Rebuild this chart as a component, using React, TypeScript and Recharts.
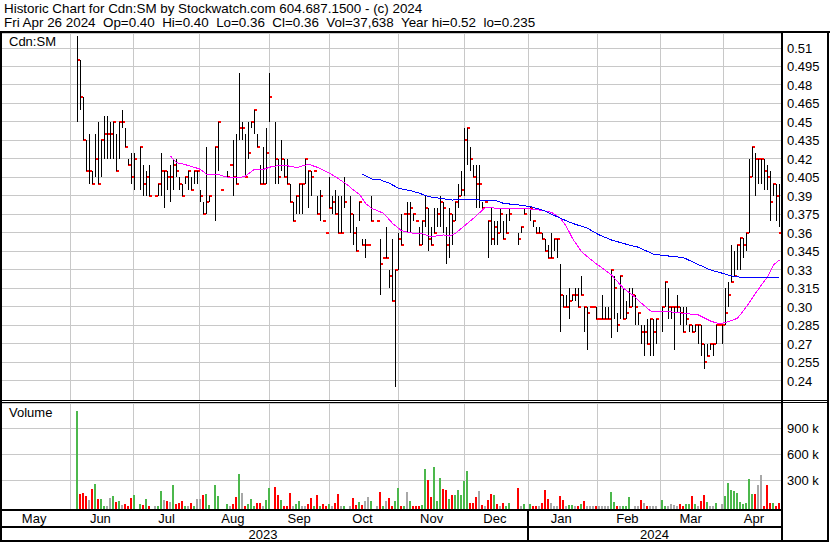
import React from 'react';
import { ComposedChart, Bar, Line, XAxis, YAxis, CartesianGrid, ReferenceLine } from 'recharts';

const FONT = '"Liberation Sans", Arial, Helvetica, sans-serif';

const headerLine1 = 'Historic Chart for Cdn:SM by Stockwatch.com 604.687.1500 - (c) 2024';
const headerLine2 = 'Fri Apr 26 2024  Op=0.40  Hi=0.40  Lo=0.36  Cl=0.36  Vol=37,638  Year hi=0.52  lo=0.235';
const symbolLabel = 'Cdn:SM';
const volumeLabel = 'Volume';

// trading-day slots from May 2023 to Apr 26 2024
const SLOTS = 260;

const monthNames = ['May', 'Jun', 'Jul', 'Aug', 'Sep', 'Oct', 'Nov', 'Dec', 'Jan', 'Feb', 'Mar', 'Apr'];
const monthLabelSlot = [11, 33, 55, 77, 99, 120, 143, 164, 186, 208, 229, 250];
const monthStartSlot = [23, 44, 66, 89, 109, 132, 154, 175, 198, 219, 240];
const yearNames = ['2023', '2024'];
const yearLabelSlot = [87, 217];
const yearStartSlot = 175;

const priceTicks = [0.51, 0.495, 0.48, 0.465, 0.45, 0.435, 0.42, 0.405, 0.39, 0.375, 0.36, 0.345, 0.33, 0.315, 0.3, 0.285, 0.27, 0.255, 0.24];
const PRICE_MIN = 0.22452;
const PRICE_MAX = 0.52217;
const volumeTicks = [300000, 600000, 900000];
const VOL_MIN = -31200;
const VOL_MAX = 1191900;

// [high, low, close] per trading day
const pricesJunJul: (number[] | null)[] = [
  [0.52, 0.45, 0.5], [0.5, 0.46, 0.47], [0.47, 0.435, 0.435], [0.435, 0.41, 0.41], [0.44, 0.4, 0.41],
  [0.41, 0.4, 0.4], [0.44, 0.405, 0.42], [0.45, 0.4, 0.4], [0.435, 0.405, 0.435], [0.455, 0.42, 0.44],
  [0.455, 0.42, 0.44], [0.45, 0.42, 0.44], [0.45, 0.42, 0.45], [0.44, 0.41, 0.41], [0.45, 0.42, 0.45],
  [0.46, 0.445, 0.45], [0.445, 0.43, 0.43], [0.42, 0.415, 0.415], [0.425, 0.4, 0.405], [0.425, 0.395, 0.42],
  null, [0.43, 0.395, 0.43], [0.415, 0.39, 0.4], [0.41, 0.39, 0.405], [0.415, 0.39, 0.39],
  null, [0.39, 0.39, 0.39], [0.4, 0.39, 0.4], [0.425, 0.39, 0.41], [0.41, 0.38, 0.41],
  [0.41, 0.395, 0.405], [0.415, 0.385, 0.405], [0.42, 0.395, 0.415], [0.42, 0.405, 0.41], [0.405, 0.395, 0.4],
  [0.4, 0.39, 0.39], [0.405, 0.4, 0.405], [0.41, 0.395, 0.41], [0.405, 0.395, 0.395], [0.41, 0.4, 0.41],
  [0.41, 0.4, 0.41], [0.395, 0.385, 0.39], [0.385, 0.375, 0.375], [0.43, 0.375, 0.385], [0.39, 0.385, 0.39],
  null,
];
const pricesAugSep: (number[] | null)[] = [
  [0.43, 0.37, 0.43], [0.45, 0.41, 0.45], [0.395, 0.395, 0.395], null, [0.41, 0.405, 0.405],
  [0.415, 0.415, 0.415], [0.435, 0.39, 0.405], [0.44, 0.4, 0.4], [0.49, 0.435, 0.445], [0.45, 0.435, 0.445],
  [0.44, 0.405, 0.405], [0.45, 0.42, 0.425], [0.45, 0.445, 0.45], [0.46, 0.44, 0.46], [0.44, 0.43, 0.43],
  [0.415, 0.4, 0.4], [0.43, 0.4, 0.4], [0.445, 0.4, 0.425], [0.49, 0.45, 0.47], null,
  [0.45, 0.4, 0.42], [0.42, 0.4, 0.405], [0.435, 0.41, 0.42], [0.42, 0.405, 0.405], [0.42, 0.4, 0.4],
  [0.4, 0.385, 0.385], [0.385, 0.37, 0.37], [0.39, 0.375, 0.39], [0.4, 0.375, 0.4], [0.4, 0.375, 0.4],
  [0.42, 0.4, 0.42], [0.41, 0.38, 0.41], [0.41, 0.39, 0.405], [0.41, 0.41, 0.41], [0.39, 0.375, 0.375],
  [0.395, 0.37, 0.39], [0.37, 0.37, 0.37], [0.36, 0.36, 0.36], [0.405, 0.38, 0.38], [0.39, 0.375, 0.385],
  [0.395, 0.375, 0.375], [0.39, 0.36, 0.36], [0.39, 0.36, 0.36], [0.405, 0.38, 0.385], null,
  [0.39, 0.36, 0.375], [0.375, 0.35, 0.36], [0.365, 0.345, 0.345],
];
const pricesOctNov: (number[] | null)[] = [
  [0.385, 0.37, 0.385], [0.355, 0.35, 0.35], [0.355, 0.34, 0.35], [0.35, 0.35, 0.35], [0.39, 0.37, 0.37],
  null, [0.37, 0.37, 0.37], [0.355, 0.31, 0.335], [0.34, 0.34, 0.34], [0.365, 0.34, 0.34],
  [0.33, 0.315, 0.325], [0.355, 0.305, 0.305], [0.33, 0.235, 0.33], [0.36, 0.33, 0.355], [0.375, 0.35, 0.35],
  [0.375, 0.375, 0.375], [0.385, 0.36, 0.375], [0.385, 0.36, 0.38], [0.375, 0.37, 0.375], [0.37, 0.37, 0.37],
  [0.365, 0.35, 0.35], [0.37, 0.35, 0.37], [0.39, 0.365, 0.38], [0.38, 0.345, 0.355], [0.365, 0.35, 0.35],
  [0.38, 0.36, 0.36], [0.38, 0.365, 0.375], [0.39, 0.365, 0.385], [0.385, 0.36, 0.38], [0.365, 0.335, 0.35],
  [0.38, 0.34, 0.375], [0.375, 0.35, 0.37], [0.385, 0.37, 0.385], [0.4, 0.38, 0.39], [0.41, 0.39, 0.395],
  [0.445, 0.39, 0.435], [0.445, 0.415, 0.445], [0.43, 0.41, 0.42], [0.415, 0.405, 0.405], [0.415, 0.38, 0.4],
  [0.415, 0.38, 0.4], [0.385, 0.38, 0.38], [0.385, 0.385, 0.385], [0.37, 0.34, 0.37], [0.38, 0.35, 0.355],
  [0.37, 0.35, 0.365],
];
const pricesDecJan: (number[] | null)[] = [
  [0.37, 0.35, 0.36], [0.38, 0.36, 0.375], [0.37, 0.355, 0.355], [0.375, 0.36, 0.36], [0.38, 0.37, 0.375],
  null, null, [0.36, 0.35, 0.355], [0.365, 0.36, 0.365], [0.38, 0.375, 0.375],
  null, [0.382, 0.37, 0.38], [0.37, 0.365, 0.37], [0.365, 0.36, 0.36], [0.365, 0.36, 0.36],
  [0.36, 0.355, 0.355], [0.355, 0.345, 0.345], [0.35, 0.34, 0.34], [0.36, 0.34, 0.34], [0.355, 0.345, 0.355],
  [0.355, 0.34, 0.355], [0.335, 0.28, 0.31], [0.31, 0.3, 0.3], [0.31, 0.3, 0.3], [0.315, 0.29, 0.305],
  [0.31, 0.305, 0.31], [0.315, 0.305, 0.31], [0.315, 0.3, 0.3], [0.325, 0.31, 0.31], [0.3, 0.28, 0.3],
  [0.3, 0.265, 0.295], [0.3, 0.3, 0.3], [0.3, 0.3, 0.3], [0.3, 0.29, 0.29], [0.29, 0.29, 0.29],
  [0.31, 0.29, 0.29], [0.3, 0.29, 0.29], [0.3, 0.29, 0.29], [0.33, 0.275, 0.33], [0.325, 0.29, 0.315],
  [0.295, 0.28, 0.285], [0.325, 0.29, 0.325], [0.315, 0.29, 0.29], [0.305, 0.29, 0.295], [0.315, 0.3, 0.3],
  [0.315, 0.3, 0.31],
];
const pricesFebApr: (number[] | null)[] = [
  [0.31, 0.285, 0.3], [0.295, 0.285, 0.295], [0.285, 0.27, 0.28], [0.285, 0.26, 0.28], [0.29, 0.27, 0.27],
  [0.29, 0.26, 0.29], [0.29, 0.26, 0.28], [0.29, 0.27, 0.29], null, [0.3, 0.28, 0.3],
  [0.32, 0.3, 0.32], [0.315, 0.29, 0.3], [0.3, 0.29, 0.3], [0.3, 0.265, 0.3], [0.31, 0.295, 0.3],
  [0.3, 0.285, 0.295], [0.3, 0.28, 0.28], [0.3, 0.285, 0.29], [0.285, 0.28, 0.285], [0.285, 0.28, 0.28],
  [0.285, 0.28, 0.285], [0.285, 0.27, 0.285], [0.285, 0.26, 0.27], [0.27, 0.25, 0.255], [0.27, 0.26, 0.26],
  [0.27, 0.265, 0.27], [0.27, 0.26, 0.27], [0.285, 0.27, 0.285], [0.285, 0.285, 0.285], [0.285, 0.27, 0.285],
  [0.315, 0.285, 0.295], [0.32, 0.3, 0.31], [0.35, 0.32, 0.32], [0.345, 0.325, 0.325], [0.35, 0.33, 0.35],
  [0.356, 0.33, 0.356], [0.356, 0.34, 0.35], [0.36, 0.345, 0.36], [0.42, 0.36, 0.405], [0.43, 0.405, 0.43],
  [0.425, 0.39, 0.42], [0.42, 0.4, 0.42], [0.42, 0.4, 0.42], [0.42, 0.395, 0.41], [0.415, 0.395, 0.405],
  [0.41, 0.37, 0.385], [0.4, 0.39, 0.4], [0.4, 0.37, 0.39], [0.4, 0.365, 0.36],
];
const priceSegments: [number, (number[] | null)[]][] = [
  [25, pricesJunJul], [71, pricesAugSep], [119, pricesOctNov], [165, pricesDecJan], [211, pricesFebApr],
];

// volume in thousands, tone: G up, R down, N unchanged, - none
const volJunJul = [1103, 142, 157, 122, 76, 200, 258, 85, 85, 7, 7, 99, 119, 53, 61, 15, 27, 2, 99, 131, null, 30, 15, 85, 4, null, 4, 2, 177, 73, 61, 53, 249, 27, 38, 61, 7, 2, 42, 4, 85, 85, 131, 145, 15, null];
const toneJunJul = 'GRRRNRGRGGNNGRGNRRRG-GRGR-NGGNRNGRRRGNRGNNRGG-';
const volAugSep = [249, 119, null, null, 27, 2, 27, 111, 376, 157, 2, 27, 85, 2, 38, 38, 2, 73, 211, null, 226, 131, 73, 7, 7, 157, 2, 27, 61, 2, 2, 27, 96, 2, 131, 2, 27, 2, 27, 2, 38, 142, 4, 2, null, 2, 96, 15];
const toneAugSep = 'GG--GNRRGNRGGGRRNGG-RRGRRRNGGNNRRGRGRRGNRRNG-NRR';
const volOctNov = [50, 15, 61, 108, 61, null, 2, 165, 2, 61, 96, 2, 61, 211, 4, 7, 165, 61, 2, 2, 2, 15, 431, 304, 108, 454, 61, 327, 200, 188, 85, 131, 131, 188, 131, 292, 408, 38, 38, 108, 177, 15, 2, 73, 142, 131];
const toneOctNov = 'GRNNG-NRGNRRGGRGNGRRRGGRRGGGRRGRGGGGGRRRNRNRRG';
const volDecJan = [27, 2, 38, 4, 38, null, null, 211, 2, 27, null, 27, 2, 2, 4, 38, 188, 85, 38, 2, 2, 119, 73, 4, 15, 15, 2, 2, 27, 61, 2, 2, 4, 2, 2, 2, 2, 2, 165, 50, 4, 2, 2, 4, 108, null];
const toneDecJan = 'RNRGG--RNG-GRRNRRRNNNRRNGGNRGRNNNRNNNNGGRNGGG-';
const volFebApr = [2, 2, 73, 38, 2, 4, 2, 2, null, 73, 4, 2, 27, 15, 4, 27, 4, 27, 27, 119, 27, 4, 61, 131, 50, 2, 2, 38, null, 27, 119, 269, 188, 177, 154, 50, 27, 38, 315, 142, 142, 246, 361, 4, 246, 38, 38, 2, 38];
const toneFebApr = 'NNRNRNNN-GGNNNNRRGGRGNRRGNNG-NGGGGGGGGGGRNNRRRGRR';
const volumeSegments: [number, (number | null)[], string][] = [
  [25, volJunJul, toneJunJul], [71, volAugSep, toneAugSep], [119, volOctNov, toneOctNov],
  [165, volDecJan, toneDecJan], [211, volFebApr, toneFebApr],
];

// moving averages: [slot, value]
const maFastPoints: [number, number][] = [
  [56, 0.4224], [58, 0.417], [60, 0.416], [63, 0.414], [66, 0.4116], [68, 0.4076], [72, 0.4076], [74, 0.4056],
  [77, 0.4046], [79, 0.4046], [81, 0.4062], [84, 0.4116], [87, 0.4116], [90, 0.414], [94, 0.4149], [96, 0.414],
  [98, 0.413], [102, 0.4157], [105, 0.4132], [108, 0.4097], [111, 0.4056], [115, 0.399], [117, 0.3948],
  [119, 0.3913], [121, 0.384], [123, 0.38], [127, 0.376], [130, 0.3678], [133, 0.3618], [137, 0.3597],
  [140, 0.3592], [143, 0.357], [147, 0.3584], [149, 0.3575], [151, 0.3597], [153, 0.3638], [157, 0.3719],
  [160, 0.3786], [161, 0.3808], [165, 0.38], [169, 0.3797], [175, 0.3797], [179, 0.3786], [183, 0.3767],
  [186, 0.3719], [188, 0.3651], [190, 0.3555], [193, 0.3448], [197, 0.3367], [200, 0.3313], [203, 0.3259],
  [207, 0.3151], [210, 0.3097], [213, 0.303], [216, 0.2967], [219, 0.2962], [222, 0.2962], [227, 0.2948],
  [232, 0.2935], [236, 0.2886], [239, 0.2862], [242, 0.288], [245, 0.2908], [248, 0.3002], [251, 0.3111],
  [255, 0.3245], [257, 0.334], [259, 0.3381],
];
const maSlowPoints: [number, number][] = [
  [120, 0.4078], [123, 0.4038], [126, 0.403], [129, 0.4003], [132, 0.3962], [136, 0.3943], [139, 0.3922],
  [142, 0.3894], [146, 0.3881], [150, 0.3867], [155, 0.3873], [159, 0.3867], [164, 0.3867], [167, 0.384],
  [172, 0.3827], [176, 0.3813], [180, 0.3786], [186, 0.3719], [190, 0.3678], [195, 0.3638], [199, 0.3583],
  [203, 0.3543], [208, 0.3508], [212, 0.3484], [217, 0.3427], [222, 0.3413], [227, 0.34], [231, 0.3354],
  [236, 0.33], [240, 0.3273], [243, 0.3251], [248, 0.3235], [252, 0.3235], [259, 0.3243],
];

const toneColor: Record<string, string> = { G: '#4cb84c', R: '#ff0000', N: '#a8a8a8' };

type Row = {
  i: number;
  high: number | null; low: number | null; close: number | null;
  range: [number, number] | null;
  vol: number | null; volRange: [number, number] | null; tone: string;
  maFast: number | null; maSlow: number | null;
};

const rows: Row[] = [];
for (let i = 0; i < SLOTS; i++) {
  rows.push({ i, high: null, low: null, close: null, range: null, vol: null, volRange: null, tone: '-', maFast: null, maSlow: null });
}
priceSegments.forEach(([start, seg]) => {
  seg.forEach((b, k) => {
    if (!b) return;
    const r = rows[start + k];
    r.high = b[0]; r.low = b[1]; r.close = b[2];
    r.range = [b[1], b[0]];
  });
});
volumeSegments.forEach(([start, vols, tones]) => {
  vols.forEach((v, k) => {
    if (v == null) return;
    const r = rows[start + k];
    r.vol = v * 1000;
    r.volRange = [VOL_MIN, v * 1000];
    r.tone = tones[k];
  });
});
maFastPoints.forEach(([s, v]) => { rows[s].maFast = v; });
maSlowPoints.forEach(([s, v]) => { rows[s].maSlow = v; });

const fmtPrice = (v: number) => {
  const s = v.toFixed(3);
  return s.endsWith('0') ? s.slice(0, -1) : s;
};

function OhlcShape(props: any) {
  const { x, y, width, height, payload } = props;
  if (!payload || payload.high == null) return <g />;
  const top = Math.min(y, y + height);
  const bot = Math.max(y, y + height);
  const span = payload.high - payload.low;
  const cy = span > 0 ? top + ((payload.high - payload.close) / span) * (bot - top) : top;
  const lx = Math.floor(x + width / 2);
  const t = Math.round(top);
  const b = Math.round(bot);
  return (
    <g>
      <rect x={lx} y={Math.round(cy) - 1} width={3} height={2} fill="#ff0000" />
      {b - t > 0 && <rect x={lx} y={t} width={1} height={b - t} fill="#000000" />}
    </g>
  );
}

function VolumeShape(props: any) {
  const { x, y, width, height, payload } = props;
  if (!payload || payload.vol == null) return <g />;
  const top = Math.round(Math.min(y, y + height));
  const bot = Math.round(Math.max(y, y + height));
  const cx = x + width / 2;
  return <rect x={Math.floor(cx) - 1} y={top} width={2} height={bot - top} fill={toneColor[payload.tone] || '#a8a8a8'} />;
}

const axisTicks = [...monthLabelSlot, ...yearLabelSlot, yearStartSlot].sort((a, b) => a - b);

function TimeTick(props: any) {
  const { x, y, payload } = props;
  const v = payload.value;
  const mi = monthLabelSlot.indexOf(v);
  if (mi >= 0) {
    return <text x={x} y={y + 14} textAnchor="middle" fontSize={13} fontFamily={FONT} fill="#000">{monthNames[mi]}</text>;
  }
  const yi = yearLabelSlot.indexOf(v);
  if (yi >= 0) {
    return <text x={x} y={y + 30} textAnchor="middle" fontSize={13} fontFamily={FONT} fill="#000">{yearNames[yi]}</text>;
  }
  if (v === yearStartSlot) {
    return <rect x={Math.floor(x) - 1} y={y} width={2} height={32} fill="#000" />;
  }
  return <g />;
}

const tickStyle = { fontSize: 13, fontFamily: FONT, fill: '#000' };
const GRID = '#c8c8c8';
const NO_MARGIN = { top: 0, right: 0, bottom: 0, left: 0 };

const blk = (left: number, top: number, width: number, height: number): React.CSSProperties => ({
  position: 'absolute', left, top, width, height, background: '#000',
});
const layer = (top: number): React.CSSProperties => ({ position: 'absolute', left: 1, top });
const headerStyle = (top: number): React.CSSProperties => ({
  position: 'absolute', left: 4, top, fontSize: 13.4, lineHeight: '14px', whiteSpace: 'pre',
});

export default function App() {
  return (
    <div style={{ position: 'absolute', left: 0, top: 0, width: 830, height: 543, background: '#fff', overflow: 'hidden', fontFamily: FONT, color: '#000' }}>
      <style>{'svg { shape-rendering: crispEdges; }'}</style>
      <div style={headerStyle(2)}>{headerLine1}</div>
      <div style={headerStyle(16)}>{headerLine2}</div>

      {/* price panel: grid layer */}
      <div style={layer(33)}>
        <ComposedChart width={828} height={367} data={rows} margin={NO_MARGIN}>
          <CartesianGrid vertical={false} stroke={GRID} />
          <XAxis dataKey="i" type="category" hide />
          <YAxis
            orientation="right" width={48} type="number" domain={[PRICE_MIN, PRICE_MAX]} allowDataOverflow
            ticks={priceTicks} interval={0} tickFormatter={fmtPrice} tick={tickStyle}
            axisLine={false} tickLine={false} tickSize={0} tickMargin={6}
          />
          {monthStartSlot.map((m) => (
            <ReferenceLine key={m} x={m} stroke={GRID} strokeWidth={1} />
          ))}
        </ComposedChart>
      </div>
      {/* price panel: series layer */}
      <div style={layer(33)}>
        <ComposedChart width={828} height={367} data={rows} margin={NO_MARGIN}>
          <XAxis dataKey="i" type="category" hide />
          <YAxis
            orientation="right" width={48} type="number" domain={[PRICE_MIN, PRICE_MAX]} allowDataOverflow
            ticks={priceTicks} tick={false} axisLine={false} tickLine={false}
          />
          <Bar dataKey="range" shape={OhlcShape} isAnimationActive={false} />
          <Line dataKey="maFast" type="linear" stroke="#ff00ff" strokeWidth={1} dot={false} activeDot={false} connectNulls isAnimationActive={false} />
          <Line dataKey="maSlow" type="linear" stroke="#0000ff" strokeWidth={1} dot={false} activeDot={false} connectNulls isAnimationActive={false} />
        </ComposedChart>
      </div>

      {/* volume panel: grid + axes layer */}
      <div style={layer(403)}>
        <ComposedChart width={828} height={138} data={rows} margin={NO_MARGIN}>
          <CartesianGrid vertical={false} stroke={GRID} />
          <XAxis
            dataKey="i" type="category" height={32} ticks={axisTicks} interval={0} tick={<TimeTick />}
            axisLine={false} tickLine={false} tickSize={0} tickMargin={0}
          />
          <YAxis
            orientation="right" width={48} type="number" domain={[VOL_MIN, VOL_MAX]} allowDataOverflow
            ticks={volumeTicks} interval={0} tickFormatter={(v: number) => `${v / 1000} k`} tick={tickStyle}
            axisLine={false} tickLine={false} tickSize={0} tickMargin={6}
          />
          {monthStartSlot.map((m) => (
            <ReferenceLine key={m} x={m} stroke={GRID} strokeWidth={1} />
          ))}
        </ComposedChart>
      </div>
      {/* volume panel: bars layer */}
      <div style={layer(403)}>
        <ComposedChart width={828} height={138} data={rows} margin={NO_MARGIN}>
          <XAxis dataKey="i" type="category" height={32} tick={false} axisLine={false} tickLine={false} />
          <YAxis
            orientation="right" width={48} type="number" domain={[VOL_MIN, VOL_MAX]} allowDataOverflow
            ticks={volumeTicks} tick={false} axisLine={false} tickLine={false}
          />
          <Bar dataKey="volRange" shape={VolumeShape} isAnimationActive={false} />
        </ComposedChart>
      </div>

      <div style={{ position: 'absolute', left: 9, top: 35, fontSize: 13, lineHeight: '14px' }}>{symbolLabel}</div>
      <div style={{ position: 'absolute', left: 9, top: 406, fontSize: 13, lineHeight: '14px' }}>{volumeLabel}</div>

      {/* frame */}
      <div style={blk(0, 31, 830, 2)} />
      <div style={blk(0, 31, 2, 511)} />
      <div style={blk(781, 31, 2, 511)} />
      <div style={blk(827, 31, 2, 511)} />
      <div style={blk(0, 400, 829, 1)} />
      <div style={blk(0, 402, 829, 1)} />
      <div style={blk(0, 509, 783, 2)} />
      <div style={blk(0, 526, 783, 2)} />
      <div style={blk(0, 540, 829, 2)} />
    </div>
  );
}
